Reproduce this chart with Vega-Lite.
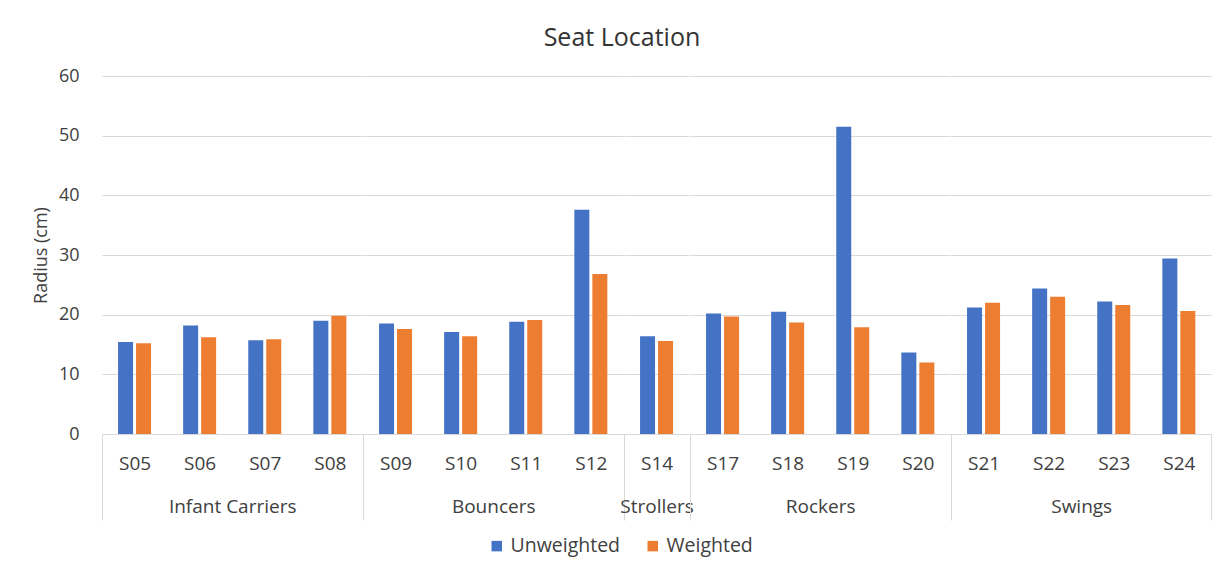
{
  "$schema": "https://vega.github.io/schema/vega-lite/v6.json",
  "background": "white",
  "padding": {"left": 32, "top": 26, "right": 5, "bottom": 5},
  "title": {"text": "Seat Location", "font": "Open Sans", "fontSize": 25, "fontWeight": "normal", "color": "#333333", "anchor": "middle", "offset": 16},
  "data": {"values": [
    {"group": "Infant Carriers", "seat": "S05", "series": "Unweighted", "value": 15.4},
    {"group": "Infant Carriers", "seat": "S05", "series": "Weighted", "value": 15.2},
    {"group": "Infant Carriers", "seat": "S06", "series": "Unweighted", "value": 18.2},
    {"group": "Infant Carriers", "seat": "S06", "series": "Weighted", "value": 16.2},
    {"group": "Infant Carriers", "seat": "S07", "series": "Unweighted", "value": 15.7},
    {"group": "Infant Carriers", "seat": "S07", "series": "Weighted", "value": 15.9},
    {"group": "Infant Carriers", "seat": "S08", "series": "Unweighted", "value": 19.0},
    {"group": "Infant Carriers", "seat": "S08", "series": "Weighted", "value": 19.8},
    {"group": "Bouncers", "seat": "S09", "series": "Unweighted", "value": 18.5},
    {"group": "Bouncers", "seat": "S09", "series": "Weighted", "value": 17.6},
    {"group": "Bouncers", "seat": "S10", "series": "Unweighted", "value": 17.1},
    {"group": "Bouncers", "seat": "S10", "series": "Weighted", "value": 16.4},
    {"group": "Bouncers", "seat": "S11", "series": "Unweighted", "value": 18.8},
    {"group": "Bouncers", "seat": "S11", "series": "Weighted", "value": 19.1},
    {"group": "Bouncers", "seat": "S12", "series": "Unweighted", "value": 37.6},
    {"group": "Bouncers", "seat": "S12", "series": "Weighted", "value": 26.8},
    {"group": "Strollers", "seat": "S14", "series": "Unweighted", "value": 16.4},
    {"group": "Strollers", "seat": "S14", "series": "Weighted", "value": 15.6},
    {"group": "Rockers", "seat": "S17", "series": "Unweighted", "value": 20.2},
    {"group": "Rockers", "seat": "S17", "series": "Weighted", "value": 19.7},
    {"group": "Rockers", "seat": "S18", "series": "Unweighted", "value": 20.5},
    {"group": "Rockers", "seat": "S18", "series": "Weighted", "value": 18.7},
    {"group": "Rockers", "seat": "S19", "series": "Unweighted", "value": 51.5},
    {"group": "Rockers", "seat": "S19", "series": "Weighted", "value": 17.9},
    {"group": "Rockers", "seat": "S20", "series": "Unweighted", "value": 13.65},
    {"group": "Rockers", "seat": "S20", "series": "Weighted", "value": 12.0},
    {"group": "Swings", "seat": "S21", "series": "Unweighted", "value": 21.2},
    {"group": "Swings", "seat": "S21", "series": "Weighted", "value": 22.0},
    {"group": "Swings", "seat": "S22", "series": "Unweighted", "value": 24.4},
    {"group": "Swings", "seat": "S22", "series": "Weighted", "value": 23.0},
    {"group": "Swings", "seat": "S23", "series": "Unweighted", "value": 22.2},
    {"group": "Swings", "seat": "S23", "series": "Weighted", "value": 21.6},
    {"group": "Swings", "seat": "S24", "series": "Unweighted", "value": 29.4},
    {"group": "Swings", "seat": "S24", "series": "Weighted", "value": 20.6}
  ]},
  "spacing": 0,
  "bounds": "flush",
  "resolve": {"scale": {"x": "independent"}},
  "hconcat": [
    {
      "width": 260.4, "height": 358,
      "transform": [{"filter": "datum.group === 'Infant Carriers'"}],
      "mark": "bar",
      "encoding": {
        "x": {"field": "seat", "type": "nominal", "scale": {"paddingInner": 0, "paddingOuter": 0},
              "axis": {"title": "Infant Carriers", "tickOpacity": {"condition": {"test": "datum.index < 0", "value": 1}, "value": 0}}},
        "xOffset": {"field": "series", "type": "nominal", "scale": {"paddingInner": 0.1667, "paddingOuter": 0.892}},
        "y": {"field": "value", "type": "quantitative", "scale": {"domain": [0, 60]},
              "axis": {"title": "Radius (cm)", "values": [0, 10, 20, 30, 40, 50, 60]}},
        "color": {"field": "series", "type": "nominal",
          "scale": {"domain": ["Unweighted", "Weighted"], "range": ["#4472C4", "#ED7D31"]},
          "legend": {"orient": "none", "legendX": 385, "legendY": 460, "direction": "horizontal", "title": null,
            "symbolType": "square", "symbolSize": 110, "symbolStrokeWidth": 0,
            "labelFont": "Open Sans", "labelFontSize": 19.5, "labelColor": "#404040", "columnPadding": 22}}
      }
    },
    {
      "width": 260.4, "height": 358,
      "transform": [{"filter": "datum.group === 'Bouncers'"}],
      "mark": "bar",
      "encoding": {
        "x": {"field": "seat", "type": "nominal", "scale": {"paddingInner": 0, "paddingOuter": 0},
              "axis": {"title": "Bouncers", "tickOpacity": {"condition": {"test": "datum.index < 0", "value": 1}, "value": 0}}},
        "xOffset": {"field": "series", "type": "nominal", "scale": {"paddingInner": 0.1667, "paddingOuter": 0.892}},
        "y": {"field": "value", "type": "quantitative", "scale": {"domain": [0, 60]},
              "axis": {"title": null, "labels": false, "values": [0, 10, 20, 30, 40, 50, 60]}},
        "color": {"field": "series", "type": "nominal"}
      }
    },
    {
      "width": 65.1, "height": 358,
      "transform": [{"filter": "datum.group === 'Strollers'"}],
      "mark": "bar",
      "encoding": {
        "x": {"field": "seat", "type": "nominal", "scale": {"paddingInner": 0, "paddingOuter": 0},
              "axis": {"title": "Strollers", "tickOpacity": {"condition": {"test": "datum.index < 0", "value": 1}, "value": 0}}},
        "xOffset": {"field": "series", "type": "nominal", "scale": {"paddingInner": 0.1667, "paddingOuter": 0.892}},
        "y": {"field": "value", "type": "quantitative", "scale": {"domain": [0, 60]},
              "axis": {"title": null, "labels": false, "values": [0, 10, 20, 30, 40, 50, 60]}},
        "color": {"field": "series", "type": "nominal"}
      }
    },
    {
      "width": 260.4, "height": 358,
      "transform": [{"filter": "datum.group === 'Rockers'"}],
      "mark": "bar",
      "encoding": {
        "x": {"field": "seat", "type": "nominal", "scale": {"paddingInner": 0, "paddingOuter": 0},
              "axis": {"title": "Rockers", "tickOpacity": {"condition": {"test": "datum.index < 0", "value": 1}, "value": 0}}},
        "xOffset": {"field": "series", "type": "nominal", "scale": {"paddingInner": 0.1667, "paddingOuter": 0.892}},
        "y": {"field": "value", "type": "quantitative", "scale": {"domain": [0, 60]},
              "axis": {"title": null, "labels": false, "values": [0, 10, 20, 30, 40, 50, 60]}},
        "color": {"field": "series", "type": "nominal"}
      }
    },
    {
      "width": 260.4, "height": 358,
      "transform": [{"filter": "datum.group === 'Swings'"}],
      "mark": "bar",
      "encoding": {
        "x": {"field": "seat", "type": "nominal", "scale": {"paddingInner": 0, "paddingOuter": 0},
              "axis": {"title": "Swings", "tickOpacity": {"condition": {"test": "datum.index < 0 || datum.value === 'S24'", "value": 1}, "value": 0}}},
        "xOffset": {"field": "series", "type": "nominal", "scale": {"paddingInner": 0.1667, "paddingOuter": 0.892}},
        "y": {"field": "value", "type": "quantitative", "scale": {"domain": [0, 60]},
              "axis": {"title": null, "labels": false, "values": [0, 10, 20, 30, 40, 50, 60]}},
        "color": {"field": "series", "type": "nominal"}
      }
    }
  ],
  "config": {
    "view": {"stroke": null},
    "axisX": {"labelAngle": 0, "labelFont": "Open Sans", "labelFontSize": 19, "labelColor": "#404040",
      "domainColor": "#D9D9D9", "tickColor": "#D9D9D9", "tickSize": 86, "tickBand": "extent", "labelPadding": -66,
      "grid": false, "titleFont": "Open Sans", "titleFontSize": 19, "titleFontWeight": "normal", "titleColor": "#404040", "titlePadding": -23},
    "axisY": {"labelFont": "Open Sans", "labelFontSize": 18, "labelColor": "#404040", "domain": false, "ticks": false,
      "labelPadding": 23, "gridColor": "#D9D9D9", "titleFont": "Open Sans", "titleFontSize": 18, "titleFontWeight": "normal",
      "titleColor": "#404040", "titlePadding": 8}
  }
}
